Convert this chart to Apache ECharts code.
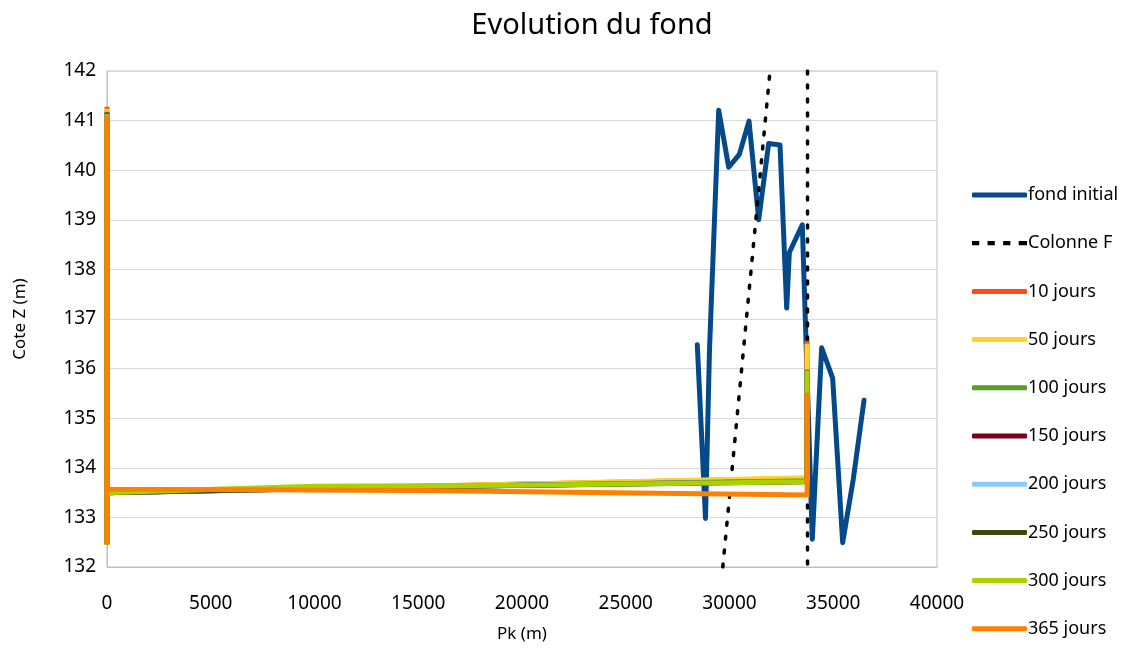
<!DOCTYPE html>
<html>
<head>
<meta charset="utf-8">
<script src="https://cdn.jsdelivr.net/npm/echarts@6/dist/echarts.min.js"></script>
<style>
    html, body { margin: 0; padding: 0; background: #fff; }
    #chart { width: 1146px; height: 649px; }
</style>
</head>
<body>
<div id="chart"></div>
<script>
// fond initial : [Pk (m), cote (m)]
const fondInitial = [
    [28448, 136.48], [28843, 132.98], [29036, 136.38], [29479, 141.21],
    [29961, 140.06], [30474, 140.32], [30940, 140.99], [31407, 139.00],
    [31889, 140.54], [32434, 140.51], [32756, 137.22], [32884, 138.34],
    [33509, 138.90], [33990, 132.56], [34441, 136.42], [34971, 135.81],
    [35454, 132.49], [35966, 133.77], [36482, 135.36]
]
// Colonne F (deux traits pointillés)
const colonneF = [[29677, 132], [31952, 142]]
const colonneF2 = [[33760, 142], [33760, 132]]

// profils simulés
const jours10 = [[0, 132.5], [0, 141.28], [0, 133.5], [15000, 133.63], [33740, 133.79], [33740, 136.56]]
const jours50 = [[0, 132.5], [0, 141.24], [0, 133.5], [15000, 133.63], [33740, 133.8], [33740, 136.5]]
const jours100 = [[0, 132.48], [0, 141.18], [0, 133.5], [15000, 133.62], [33740, 133.74], [33740, 135.98]]
const jours150 = [[0, 132.48], [0, 141.16], [0, 133.5], [15000, 133.62], [33740, 133.73], [33740, 135.97]]
const jours200 = [[0, 132.47], [0, 141.14], [0, 133.5], [15000, 133.62], [33740, 133.73], [33740, 135.96]]
const jours250 = [[0, 132.46], [0, 141.12], [0, 133.5], [15000, 133.62], [33740, 133.72], [33740, 135.96]]
const jours300 = [[0, 132.45], [0, 141.12], [0, 133.5], [10000, 133.63], [20000, 133.65], [33740, 133.72], [33740, 135.96]]
const jours365 = [[0, 132.45], [0, 141.1], [0, 133.57], [15000, 133.54], [33740, 133.45], [33740, 135.52]]

const simus = [
    { name: '10 jours', data: jours10, color: '#fc4c17' },
    { name: '50 jours', data: jours50, color: '#ffd22a' },
    { name: '100 jours', data: jours100, color: '#5b9e25' },
    { name: '150 jours', data: jours150, color: '#7b0020' },
    { name: '200 jours', data: jours200, color: '#89cbff' },
    { name: '250 jours', data: jours250, color: '#3a4a0e' },
    { name: '300 jours', data: jours300, color: '#acd100' },
    { name: '365 jours', data: jours365, color: '#ff8000' },
]

const FONT = 'Noto Sans'
const DASH_ICON = 'path://M0,0h7v4h-7z M15,0h7v4h-7z M30,0h7v4h-7z M45,0h8v4h-8z'

const series = [
    {
        name: 'fond initial',
        type: 'line',
        symbol: 'none',
        data: fondInitial,
        lineStyle: { color: '#044a8b', width: 5, join: 'round', cap: 'round' },
        itemStyle: { color: '#044a8b' },
    },
    {
        name: 'Colonne F',
        type: 'line',
        symbol: 'none',
        data: colonneF,
        lineStyle: { color: '#000', width: 3.5, type: [3, 11], cap: 'round' },
        itemStyle: { color: '#000' },
    },
    {
        name: 'Colonne F',
        type: 'line',
        symbol: 'none',
        data: colonneF2,
        lineStyle: { color: '#000', width: 3.5, type: [3, 11], cap: 'round' },
        itemStyle: { color: '#000' },
    },
]
simus.forEach(s => {
    series.push({
        name: s.name,
        type: 'line',
        symbol: 'none',
        data: s.data,
        lineStyle: { color: s.color, width: 5, join: 'miter' },
        itemStyle: { color: s.color },
    })
})

const legendData = [
    { name: 'fond initial', icon: 'roundRect' },
    { name: 'Colonne F', icon: DASH_ICON },
].concat(simus.map(s => ({ name: s.name, icon: 'roundRect' })))

const myChart = echarts.init(document.getElementById('chart'))
myChart.setOption({
    animation: false,
    title: {
        text: 'Evolution du fond',
        top: 6,
        left: 587,
        textAlign: 'center',
        textStyle: { fontFamily: FONT, fontSize: 29, fontWeight: 'normal', color: '#000' },
    },
    legend: {
        orient: 'vertical',
        left: 967,
        top: 180,
        itemWidth: 55,
        itemHeight: 5,
        itemGap: 28.2,
        data: legendData,
        textStyle: { fontFamily: FONT, fontSize: 18, lineHeight: 20, color: '#000', padding: [0, 0, 0, -4] },
    },
    grid: {
        left: 107,
        right: 209,
        top: 71,
        bottom: 82,
        show: true,
        borderColor: '#bfbfbf',
        borderWidth: 1,
    },
    xAxis: {
        type: 'value',
        min: 0,
        max: 40000,
        interval: 5000,
        name: 'Pk (m)',
        nameLocation: 'middle',
        nameGap: 59,
        nameTextStyle: { fontFamily: FONT, fontSize: 17, color: '#000' },
        axisLine: { lineStyle: { color: '#bfbfbf' } },
        axisTick: { show: false },
        splitLine: { show: false },
        axisLabel: { fontFamily: FONT, fontSize: 19, color: '#000', margin: 27, formatter: v => String(v) },
    },
    yAxis: {
        type: 'value',
        min: 132,
        max: 142,
        interval: 1,
        name: 'Cote Z (m)',
        nameLocation: 'middle',
        nameGap: 78,
        nameTextStyle: { fontFamily: FONT, fontSize: 17, color: '#000' },
        axisLine: { show: true, lineStyle: { color: '#bfbfbf' } },
        axisTick: { show: false },
        splitLine: { lineStyle: { color: '#d9d9d9', width: 1 } },
        axisLabel: { fontFamily: FONT, fontSize: 19, color: '#000', margin: 11 },
    },
    series: series,
})
</script>
</body>
</html>
